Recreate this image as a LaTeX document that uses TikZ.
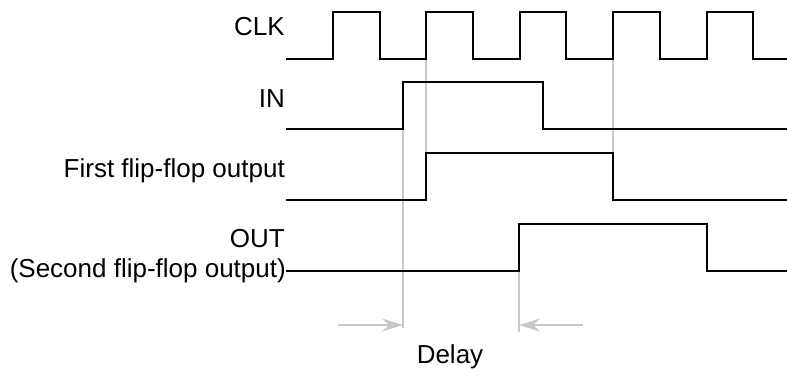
\documentclass[tikz,border=0pt]{standalone}
\usepackage{fontspec}
\setmainfont{Liberation Sans}
\usetikzlibrary{arrows.meta}
\definecolor{wavecol}{HTML}{000000}
\definecolor{guidecol}{HTML}{C8C8C8}

\begin{document}
\begin{tikzpicture}[x=1pt, y=-1pt,
    wave/.style={draw=wavecol, line width=2pt, line join=miter},
    guide/.style={draw=guidecol, line width=1.6pt},
    delayarrow/.style={guide, -{Stealth[length=21pt, width=13pt, inset=7pt]}},
    sig/.style={anchor=base east, inner sep=0pt, font=\fontsize{26}{30}\selectfont}]
  \useasboundingbox (0,0) rectangle (787,369);

  % grey guide lines
  \draw[guide] (403,129) -- (403,328);
  \draw[guide] (426,59) -- (426,200);
  \draw[guide] (613,59) -- (613,200);
  \draw[guide] (519,271) -- (519,332);

  % delay arrows
  \coordinate (dleft) at (338,325);
  \coordinate (dedgea) at (403,325);
  \coordinate (dright) at (583,325);
  \coordinate (dedgeb) at (519,325);
  \draw[delayarrow] (dleft) -- (dedgea);
  \draw[delayarrow] (dright) -- (dedgeb);
  \node[anchor=base, inner sep=0pt, font=\fontsize{26}{30}\selectfont] (delay) at (450,363) {Delay};

  % signal names
  \node[sig] (clk) at (285,36) {CLK};
  \node[sig] (in) at (285,107) {IN};
  \node[sig] (ffone) at (285,177) {First flip-flop output};
  \node[sig] (out) at (285,247) {OUT};
  \node[sig] (fftwo) at (286,277) {(Second flip-flop output)};

  % waveforms
  \draw[wave] (286,59) \foreach \i in {0,...,4} {
      -- ({333+93.4*\i},59) -- ++(0,-47) -- ++(46.5,0) -- ++(0,47) } -- (787,59);
  \draw[wave] (286,129) -- (403,129) -- (403,82) -- (543,82) -- (543,129) -- (787,129);
  \draw[wave] (286,200) -- (426,200) -- (426,153) -- (613,153) -- (613,200) -- (787,200);
  \draw[wave] (286,271) -- (519,271) -- (519,224) -- (707,224) -- (707,271) -- (787,271);
\end{tikzpicture}
\end{document}
